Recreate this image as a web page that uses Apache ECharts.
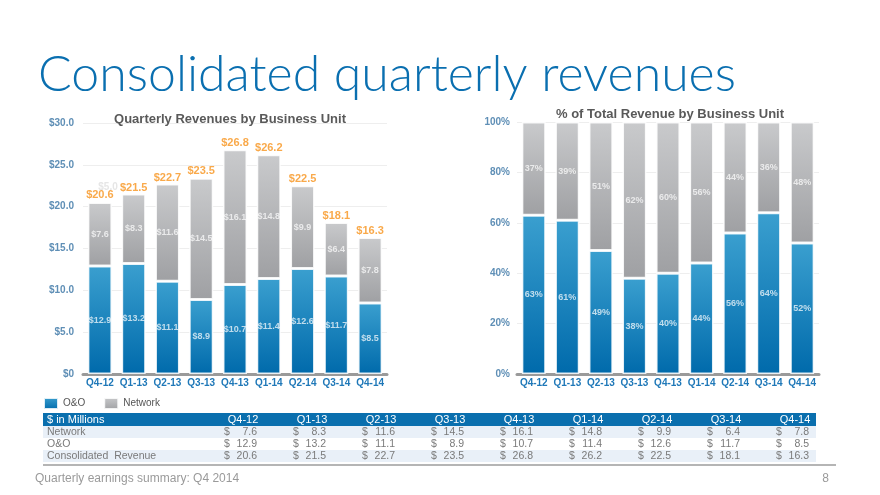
<!DOCTYPE html>
<html>
<head>
<meta charset="utf-8">
<script src="https://cdn.jsdelivr.net/npm/echarts@6/dist/echarts.min.js"></script>
<style>
html,body{margin:0;padding:0;background:#fff;}
#c{width:880px;height:495px;}
</style>
</head>
<body>
<div id="c"></div>
<script>
const categories = ['Q4-12','Q1-13','Q2-13','Q3-13','Q4-13','Q1-14','Q2-14','Q3-14','Q4-14'];
const network = [7.6, 8.3, 11.6, 14.5, 16.1, 14.8, 9.9, 6.4, 7.8];
const oando = [12.9, 13.2, 11.1, 8.9, 10.7, 11.4, 12.6, 11.7, 8.5];
const totals = [20.6, 21.5, 22.7, 23.5, 26.8, 26.2, 22.5, 18.1, 16.3];
const oandoPct = [63, 61, 49, 38, 40, 44, 56, 64, 52];
const networkPct = [37, 39, 51, 62, 60, 56, 44, 36, 48];
const tableHeader = '$ in Millions';
const rowLabels = ['Network', 'O&O', 'Consolidated  Revenue'];
const titleText = 'Consolidated quarterly revenues';
const leftTitle = 'Quarterly Revenues by Business Unit';
const rightTitle = '% of Total Revenue by Business Unit';
const footerText = 'Quarterly earnings summary: Q4 2014';
const pageNum = '8';

const chart = echarts.init(document.getElementById('c'), null, {renderer:'canvas'});

const blueGrad = new echarts.graphic.LinearGradient(0,0,0,1,[{offset:0,color:'#3a9fcf'},{offset:1,color:'#006aab'}]);
const grayGrad = new echarts.graphic.LinearGradient(0,0,0,1,[{offset:0,color:'#c9cacc'},{offset:1,color:'#9fa0a3'}]);
const barBorder = {borderColor:'rgba(255,255,255,0.85)', borderWidth:1.5};
const innerLabel = {show:true, position:'inside', color:'rgba(255,255,255,0.72)', fontSize:9, fontWeight:'bold', fontFamily:'Liberation Sans, Arial'};

function yAxisCommon(fmt, max, interval, margin){
  return {
    type:'value', min:0, max:max, interval:interval,
    axisLine:{show:false}, axisTick:{show:false},
    splitLine:{lineStyle:{color:'#eeeeee', width:1}},
    axisLabel:{formatter:fmt, color:'#5f8fb6', fontSize:10, fontWeight:'bold', fontFamily:'Liberation Sans, Arial', margin:margin}
  };
}
function xAxisCommon(idx){
  return {
    type:'category', data:categories, gridIndex:idx,
    axisLine:{lineStyle:{color:'#9a9a9a', width:3}},
    axisTick:{show:false},
    axisLabel:{color:'#1f78b8', fontSize:10, fontWeight:'bold', fontFamily:'Liberation Sans, Arial', margin:4, interval:0}
  };
}

// Table graphics built from arrays
const colCenters = categories.map((_, i) => 243 + 69 * i);
const rowsData = [network, oando, totals];
const tableGraphics = [];
tableGraphics.push({type:'rect', shape:{x:43,y:413,width:773,height:13}, style:{fill:'#0a6fae'}});
tableGraphics.push({type:'text', style:{text:tableHeader, x:47, y:420, fill:'#ffffff', font:'11px "Liberation Sans", Arial', verticalAlign:'middle'}});
categories.forEach((c,i)=>{
  tableGraphics.push({type:'text', style:{text:c, x:colCenters[i], y:420, fill:'#ffffff', font:'11px "Liberation Sans", Arial', align:'center', verticalAlign:'middle'}});
});
rowLabels.forEach((lab, r)=>{
  const y0 = 426 + r*12;
  if (r !== 1) tableGraphics.push({type:'rect', shape:{x:43,y:y0,width:773,height:12}, style:{fill:'#e9f0f8'}});
  tableGraphics.push({type:'text', style:{text:lab, x:47, y:y0+6.5, fill:'#7a7a7a', font:'10.5px "Liberation Sans", Arial', verticalAlign:'middle'}});
  rowsData[r].forEach((v,i)=>{
    tableGraphics.push({type:'text', style:{text:'$', x:colCenters[i]-19, y:y0+6.5, fill:'#7a7a7a', font:'10.5px "Liberation Sans", Arial', verticalAlign:'middle'}});
    tableGraphics.push({type:'text', style:{text:v.toFixed(1), x:colCenters[i]+14, y:y0+6.5, fill:'#7a7a7a', font:'10.5px "Liberation Sans", Arial', align:'right', verticalAlign:'middle'}});
  });
});
tableGraphics.push({type:'line', shape:{x1:43,y1:465,x2:836,y2:465}, style:{stroke:'#b5b5b5', lineWidth:2}});

const option = {
  animation:false,
  backgroundColor:'#ffffff',
  title:[
    {text:titleText, left:33, top:45, textStyle:{color:'#0a6fb0', fontSize:50, fontWeight:300, fontFamily:'Lato'}},
    {text:leftTitle, left:225, top:108, textAlign:'center', textStyle:{color:'#595959', fontSize:13, fontWeight:'bold', fontFamily:'Liberation Sans, Arial'}},
    {text:rightTitle, left:665, top:103, textAlign:'center', textStyle:{color:'#595959', fontSize:13, fontWeight:'bold', fontFamily:'Liberation Sans, Arial'}}
  ],
  legend:{
    data:['O&O','Network'], left:43, top:397, padding:0, itemWidth:14, itemHeight:11, itemGap:18, icon:'rect',
    textStyle:{color:'#555', fontSize:10, fontFamily:'Liberation Sans, Arial'},
    selectedMode:false
  },
  grid:[
    {left:83, right:493, top:123, bottom:121},
    {left:517, right:61, top:122, bottom:121}
  ],
  xAxis:[xAxisCommon(0), xAxisCommon(1)],
  yAxis:[
    Object.assign(yAxisCommon(v => v === 0 ? '$0' : '$' + v.toFixed(1), 30, 5, 9), {gridIndex:0}),
    Object.assign(yAxisCommon(v => v + '%', 100, 20, 7), {gridIndex:1})
  ],
  series:[
    {name:'O&O', type:'bar', stack:'a', xAxisIndex:0, yAxisIndex:0, data:oando, barWidth:'71%',
      itemStyle:Object.assign({color:blueGrad}, barBorder),
      label:Object.assign({formatter:p => '$' + p.value.toFixed(1)}, innerLabel)},
    {name:'Network', type:'bar', stack:'a', xAxisIndex:0, yAxisIndex:0, data:network, barWidth:'71%',
      itemStyle:Object.assign({color:grayGrad}, barBorder),
      label:Object.assign({formatter:p => '$' + p.value.toFixed(1)}, innerLabel)},
    {name:'Total', type:'scatter', xAxisIndex:0, yAxisIndex:0, data:totals, symbolSize:0.01, silent:true,
      label:{show:true, position:'top', distance:1, color:'#f7941d', fontSize:11, fontWeight:'bold', fontFamily:'Liberation Sans, Arial', formatter:p => '$' + p.value.toFixed(1)}},
    {name:'O&O', type:'bar', stack:'b', xAxisIndex:1, yAxisIndex:1, data:oandoPct, barWidth:'71%',
      itemStyle:Object.assign({color:blueGrad}, barBorder),
      label:Object.assign({formatter:p => p.value + '%'}, innerLabel)},
    {name:'Network', type:'bar', stack:'b', xAxisIndex:1, yAxisIndex:1, data:networkPct, barWidth:'71%',
      itemStyle:Object.assign({color:grayGrad}, barBorder),
      label:Object.assign({formatter:p => p.value + '%'}, innerLabel)}
  ],
  graphic:[
    {type:'text', style:{text:'$5.0', x:108, y:187, fill:'#e6e6e6', font:'bold 10px "Liberation Sans", Arial', align:'center', verticalAlign:'middle'}},
    ...tableGraphics,
    {type:'text', style:{text:footerText, x:35, y:479, fill:'#9a9a9a', font:'12px "Liberation Sans", Arial', verticalAlign:'middle'}},
    {type:'text', style:{text:pageNum, x:829, y:479, fill:'#9a9a9a', font:'12px "Liberation Sans", Arial', align:'right', verticalAlign:'middle'}}
  ]
};
chart.setOption(option);
</script>
</body>
</html>
